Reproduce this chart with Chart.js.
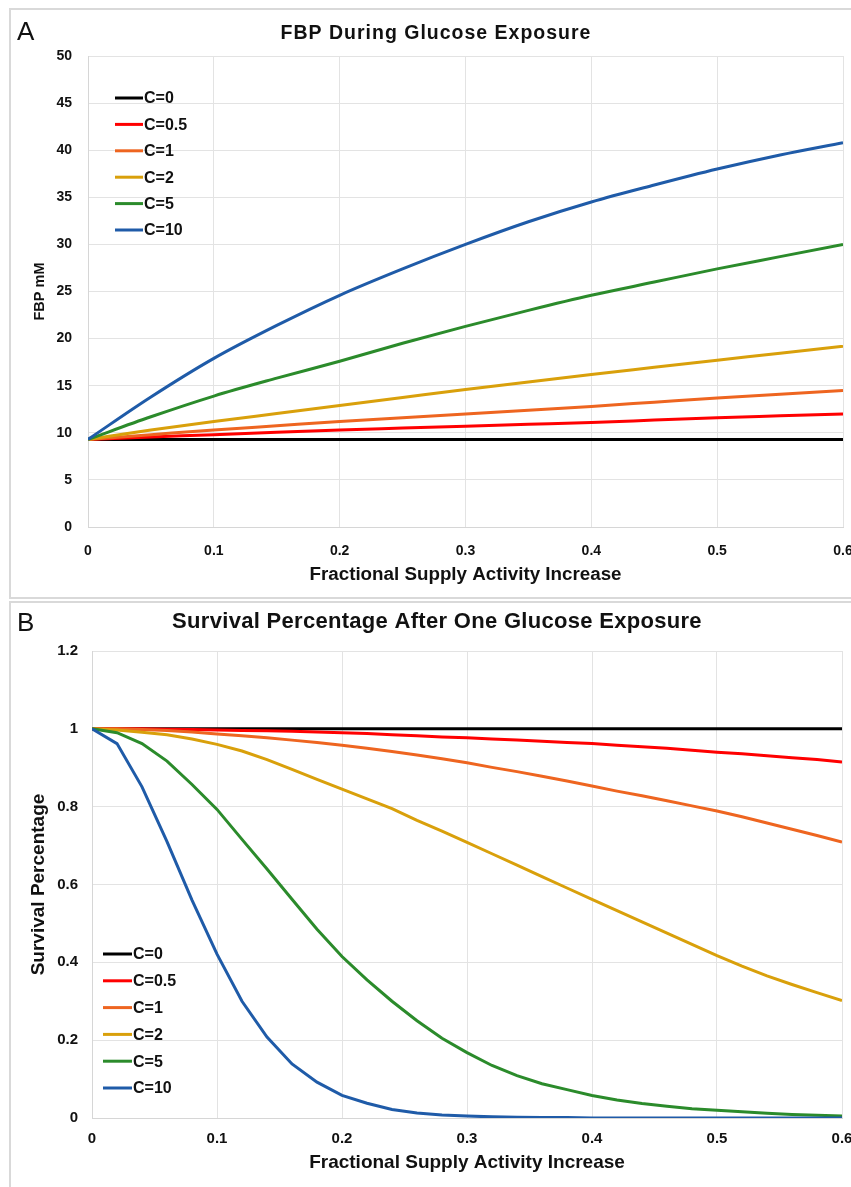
<!DOCTYPE html>
<html>
<head>
<meta charset="utf-8">
<script src="https://cdn.jsdelivr.net/npm/chart.js@4.4.1/dist/chart.umd.min.js"></script>
<style>
html, body { margin:0; padding:0; background:#fff; width:851px; height:1187px; overflow:hidden; }
.box { position:absolute; border:2px solid #d9d9d9; box-sizing:border-box; }
#boxA { left:9px; top:8px; width:860px; height:591px; }
#boxB { left:9px; top:601px; width:860px; height:600px; }
.wrap { position:absolute; }
#wrapA { left:10px; top:9px; width:851px; height:589px; }
#wrapB { left:10px; top:602px; width:851px; height:590px; }
.letter { position:absolute; font-family:"Liberation Sans", Arial, sans-serif; font-size:26px; line-height:1; color:#111; }
#letA { left:17px; top:18px; }
#letB { left:17px; top:609px; }
</style>
</head>
<body>
<div class="box" id="boxA"></div>
<div class="box" id="boxB"></div>
<div class="wrap" id="wrapA"><canvas id="chartA" width="851" height="589"></canvas></div>
<div class="wrap" id="wrapB"><canvas id="chartB" width="851" height="590"></canvas></div>
<div class="letter" id="letA">A</div>
<div class="letter" id="letB">B</div>
<script>
// ---------- DATA ----------
const seriesLabels = ['C=0', 'C=0.5', 'C=1', 'C=2', 'C=5', 'C=10'];

// Panel A: FBP (mM) vs fractional supply activity increase
const xA = [0, 0.05, 0.1, 0.15, 0.2, 0.25, 0.3, 0.35, 0.4, 0.45, 0.5, 0.55, 0.6];
const fbpC0   = [9.3, 9.3, 9.3, 9.3, 9.3, 9.3, 9.3, 9.3, 9.3, 9.3, 9.3, 9.3, 9.3];
const fbpC05  = [9.3, 9.55, 9.8, 10.05, 10.3, 10.5, 10.7, 10.9, 11.1, 11.35, 11.6, 11.8, 12.0];
const fbpC1   = [9.3, 9.8, 10.3, 10.75, 11.2, 11.6, 12.0, 12.4, 12.8, 13.25, 13.7, 14.1, 14.5];
const fbpC2   = [9.3, 10.3, 11.2, 12.05, 12.9, 13.75, 14.6, 15.4, 16.2, 16.95, 17.7, 18.45, 19.2];
const fbpC5   = [9.3, 11.7, 13.9, 15.8, 17.6, 19.5, 21.3, 23.0, 24.6, 26.0, 27.4, 28.7, 30.0];
const fbpC10  = [9.3, 13.8, 17.9, 21.4, 24.6, 27.4, 30.0, 32.4, 34.5, 36.3, 38.0, 39.5, 40.8];

// Panel B: survival fraction vs fractional supply activity increase
const xB = [0, 0.02, 0.04, 0.06, 0.08, 0.1, 0.12, 0.14, 0.16, 0.18, 0.2, 0.22, 0.24, 0.26, 0.28, 0.3,
            0.32, 0.34, 0.36, 0.38, 0.4, 0.42, 0.44, 0.46, 0.48, 0.5, 0.52, 0.54, 0.56, 0.58, 0.6];
const survC0  = [1, 1, 1, 1, 1, 1, 1, 1, 1, 1, 1, 1, 1, 1, 1, 1, 1, 1, 1, 1, 1, 1, 1, 1, 1, 1, 1, 1, 1, 1, 1];
const survC05 = [1, 1, 1, 0.999, 0.998, 0.997, 0.996, 0.995, 0.994, 0.992, 0.99, 0.988, 0.985, 0.982, 0.979, 0.977,
                 0.974, 0.971, 0.968, 0.965, 0.962, 0.958, 0.954, 0.95, 0.945, 0.94, 0.936, 0.931, 0.926, 0.921, 0.915];
const survC1  = [1, 1, 0.998, 0.996, 0.992, 0.987, 0.982, 0.977, 0.971, 0.965, 0.958, 0.95, 0.942, 0.933, 0.923, 0.913,
                 0.901, 0.89, 0.878, 0.866, 0.853, 0.84, 0.828, 0.815, 0.802, 0.789, 0.774, 0.758, 0.742, 0.726, 0.709];
const survC2  = [1, 0.997, 0.991, 0.985, 0.974, 0.96, 0.943, 0.921, 0.896, 0.87, 0.845, 0.82, 0.795, 0.765, 0.737, 0.708,
                 0.679, 0.65, 0.62, 0.591, 0.562, 0.533, 0.504, 0.475, 0.446, 0.417, 0.39, 0.365, 0.343, 0.322, 0.302];
const survC5  = [1, 0.99, 0.962, 0.917, 0.857, 0.793, 0.716, 0.64, 0.562, 0.485, 0.415, 0.355, 0.3, 0.25, 0.205, 0.168,
                 0.135, 0.109, 0.088, 0.073, 0.058, 0.046, 0.037, 0.03, 0.024, 0.02, 0.016, 0.012, 0.009, 0.007, 0.005];
const survC10 = [1, 0.962, 0.851, 0.71, 0.56, 0.421, 0.3, 0.208, 0.139, 0.092, 0.058, 0.038, 0.022, 0.013, 0.008, 0.005,
                 0.003, 0.002, 0.001, 0.001, 0, 0, 0, 0, 0, 0, 0, 0, 0, 0, 0];

const xTickLabels = ['0', '0.1', '0.2', '0.3', '0.4', '0.5', '0.6'];
const yTickLabelsA = ['0', '5', '10', '15', '20', '25', '30', '35', '40', '45', '50'];
const yTickLabelsB = ['0', '0.2', '0.4', '0.6', '0.8', '1', '1.2'];

const titleA = 'FBP During Glucose Exposure';
const titleB = 'Survival Percentage After One Glucose Exposure';
const xTitle = 'Fractional Supply Activity Increase';
const yTitleA = 'FBP mM';
const yTitleB = 'Survival Percentage';

// ---------- STYLE ----------
const seriesColors = ['#000000', '#ff0000', '#ee6520', '#d9a00b', '#2b8b2b', '#1f5ba8'];
const FONT = '"Liberation Sans", Arial, Helvetica, sans-serif';
const GRID = '#e3e3e3';
const AXISLINE = '#d6d6d6';

function pairs(xs, ys) { return xs.map((x, i) => ({ x: x, y: ys[i] })); }

function makeDatasets(xs, seriesList, smooth) {
  return seriesList.map((ys, i) => ({
    label: seriesLabels[i],
    data: pairs(xs, ys),
    borderColor: seriesColors[i],
    backgroundColor: seriesColors[i],
    borderWidth: 3,
    pointRadius: 0,
    fill: false,
    tension: 0,
    cubicInterpolationMode: smooth ? 'monotone' : 'default',
    order: -i
  }));
}

// Custom in-plot legend + title plugin
const panelDecor = {
  id: 'panelDecor',
  afterDraw(chart, args, opts) {
    const ctx = chart.ctx;
    const ca = chart.chartArea;
    ctx.save();
    ctx.fillStyle = '#111';
    ctx.font = 'bold ' + opts.titleSize + 'px ' + FONT;
    ctx.textAlign = 'center';
    ctx.textBaseline = 'middle';
    try { ctx.letterSpacing = opts.titleSpacing + 'px'; } catch (e) {}
    ctx.fillText(opts.title, opts.titleX, opts.titleY);
    try { ctx.letterSpacing = '0px'; } catch (e) {}
    ctx.font = 'bold 16px ' + FONT;
    ctx.textAlign = 'left';
    ctx.textBaseline = 'middle';
    chart.data.datasets.forEach((ds, i) => {
      const y = ca.top + opts.legTop + i * opts.legStep;
      const x0 = ca.left + opts.legLeft;
      ctx.strokeStyle = ds.borderColor;
      ctx.lineWidth = 3;
      ctx.beginPath();
      ctx.moveTo(x0, y);
      ctx.lineTo(x0 + opts.legLen, y);
      ctx.stroke();
      ctx.fillStyle = '#111';
      ctx.fillText(ds.label, x0 + opts.legLen + 1, y + 1);
    });
    ctx.restore();
  }
};

function axisCommon() {
  return {
    type: 'linear',
    grid: { color: GRID, lineWidth: 1, drawTicks: false },
    border: { display: true, color: AXISLINE, width: 1 }
  };
}

// ---------- CHART A ----------
new Chart(document.getElementById('chartA'), {
  type: 'line',
  data: { datasets: makeDatasets(xA, [fbpC0, fbpC05, fbpC1, fbpC2, fbpC5, fbpC10], true) },
  options: {
    responsive: false,
    animation: false,
    layout: { padding: { left: 10, top: 47, right: 18, bottom: 12 } },
    plugins: {
      legend: { display: false },
      title: { display: false },
      tooltip: { enabled: false },
      panelDecor: { title: titleA, titleSize: 19.5, titleSpacing: 1, titleX: 426, titleY: 25,
                    legTop: 42, legStep: 26.4, legLeft: 27, legLen: 28 }
    },
    scales: {
      x: Object.assign(axisCommon(), {
        min: 0, max: 0.6,
        afterFit(s) { s.height = 59; s.paddingRight = 0; s.paddingLeft = 0; },
        ticks: { stepSize: 0.1, padding: 16, color: '#111', font: { family: FONT, size: 14, weight: 'bold' },
                 callback: (v, i) => xTickLabels[i] },
        title: { display: true, text: xTitle, color: '#111', padding: 0, font: { family: FONT, size: 18.8, weight: 'bold' } }
      }),
      y: Object.assign(axisCommon(), {
        min: 0, max: 50,
        afterFit(s) { s.width = 68; },
        ticks: { stepSize: 5, padding: 16, color: '#111', font: { family: FONT, size: 14, weight: 'bold' },
                 callback: (v, i) => yTickLabelsA[i] },
        title: { display: true, text: yTitleA, color: '#111', padding: { top: 11.2, bottom: 0 }, font: { family: FONT, size: 14.5, weight: 'bold' } }
      })
    }
  },
  plugins: [panelDecor]
});

// ---------- CHART B ----------
new Chart(document.getElementById('chartB'), {
  type: 'line',
  data: { datasets: makeDatasets(xB, [survC0, survC05, survC1, survC2, survC5, survC10], false) },
  options: {
    responsive: false,
    animation: false,
    layout: { padding: { left: 10, top: 49, right: 19, bottom: 18 } },
    plugins: {
      legend: { display: false },
      title: { display: false },
      tooltip: { enabled: false },
      panelDecor: { title: titleB, titleSize: 22, titleSpacing: 0.3, titleX: 427, titleY: 20,
                    legTop: 303, legStep: 26.8, legLeft: 11, legLen: 29 }
    },
    scales: {
      x: Object.assign(axisCommon(), {
        min: 0, max: 0.6,
        afterFit(s) { s.height = 56; s.paddingRight = 0; s.paddingLeft = 0; },
        ticks: { stepSize: 0.1, padding: 12, color: '#111', font: { family: FONT, size: 15, weight: 'bold' },
                 callback: (v, i) => xTickLabels[i] },
        title: { display: true, text: xTitle, color: '#111', padding: 0, font: { family: FONT, size: 19, weight: 'bold' } }
      }),
      y: Object.assign(axisCommon(), {
        min: 0, max: 1.2,
        afterFit(s) { s.width = 72; },
        ticks: { stepSize: 0.2, padding: 14, color: '#111', font: { family: FONT, size: 15, weight: 'bold' },
                 callback: (v, i) => yTickLabelsB[i] },
        title: { display: true, text: yTitleB, color: '#111', padding: { top: 7.6, bottom: 0 }, font: { family: FONT, size: 19, weight: 'bold' } }
      })
    }
  },
  plugins: [panelDecor]
});
</script>
</body>
</html>
